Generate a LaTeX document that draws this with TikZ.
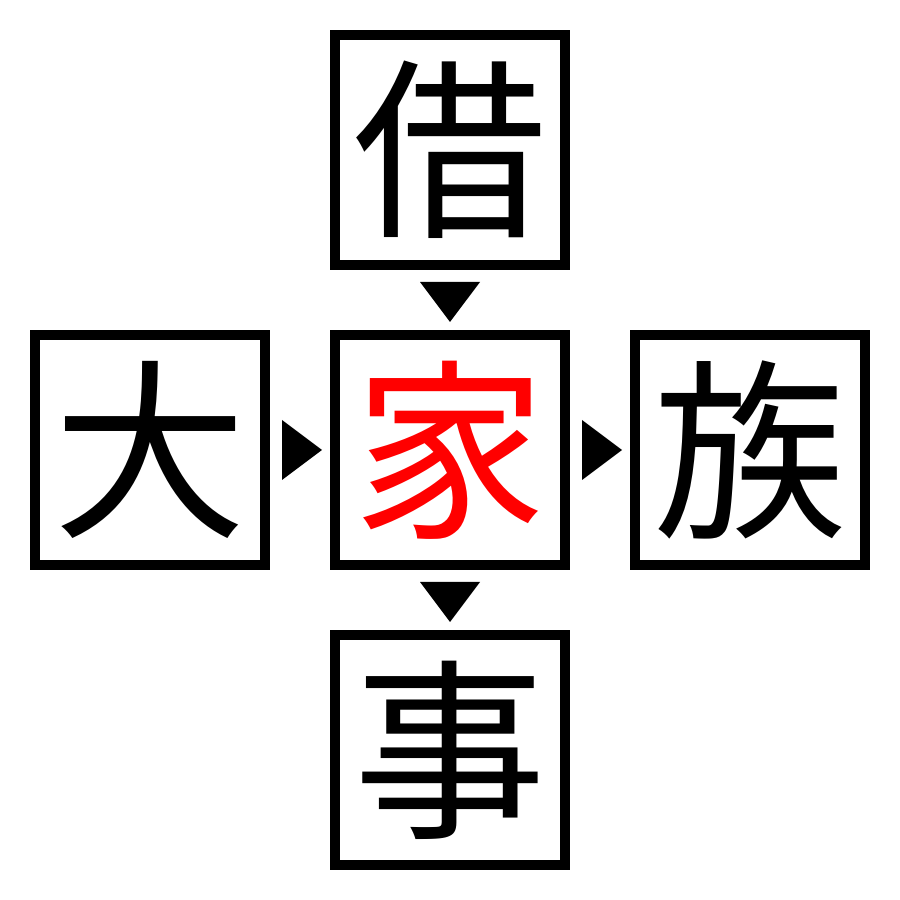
\documentclass[tikz,border=0pt]{standalone}
\usepackage{fontspec}
\newfontfamily\cjk{Noto Sans CJK JP}
\usetikzlibrary{positioning, calc}
\tikzstyle{cell} = [draw=black, line width=0.1cm, minimum size=2.3cm, inner sep=0pt, font=\cjk\fontsize{55pt}{55pt}\selectfont]
\tikzstyle{pointer} = [fill=black]

\begin{document}
\begin{tikzpicture}
                    \useasboundingbox (0,0) rectangle (9,9);

                    \node[cell, text=red](jia) at (4.5,4.5) {家};
                    \node[cell, above=0.6cm of jia](jie) {借};
                    \node[cell, left=0.6cm of jia](da) {大};
                    \node[cell, right=0.6cm of jia](zu) {族};
                    \node[cell, below=0.6cm of jia](shi) {事};

                    % pointers between the cells
                    \coordinate (p1) at ($(jie.south)!0.5!(jia.north)$);
                    \coordinate (p2) at ($(da.east)!0.5!(jia.west)$);
                    \coordinate (p3) at ($(jia.east)!0.5!(zu.west)$);
                    \coordinate (p4) at ($(jia.south)!0.5!(shi.north)$);
                    \fill[pointer] ([shift={(-0.3,0.18)}]p1) -- ++(0.6,0) -- ++(-0.3,-0.4) -- cycle;
                    \fill[pointer] ([shift={(-0.18,0.3)}]p2) -- ++(0,-0.6) -- ++(0.4,0.3) -- cycle;
                    \fill[pointer] ([shift={(-0.18,0.3)}]p3) -- ++(0,-0.6) -- ++(0.4,0.3) -- cycle;
                    \fill[pointer] ([shift={(-0.3,0.18)}]p4) -- ++(0.6,0) -- ++(-0.3,-0.4) -- cycle;
\end{tikzpicture}
\end{document}
